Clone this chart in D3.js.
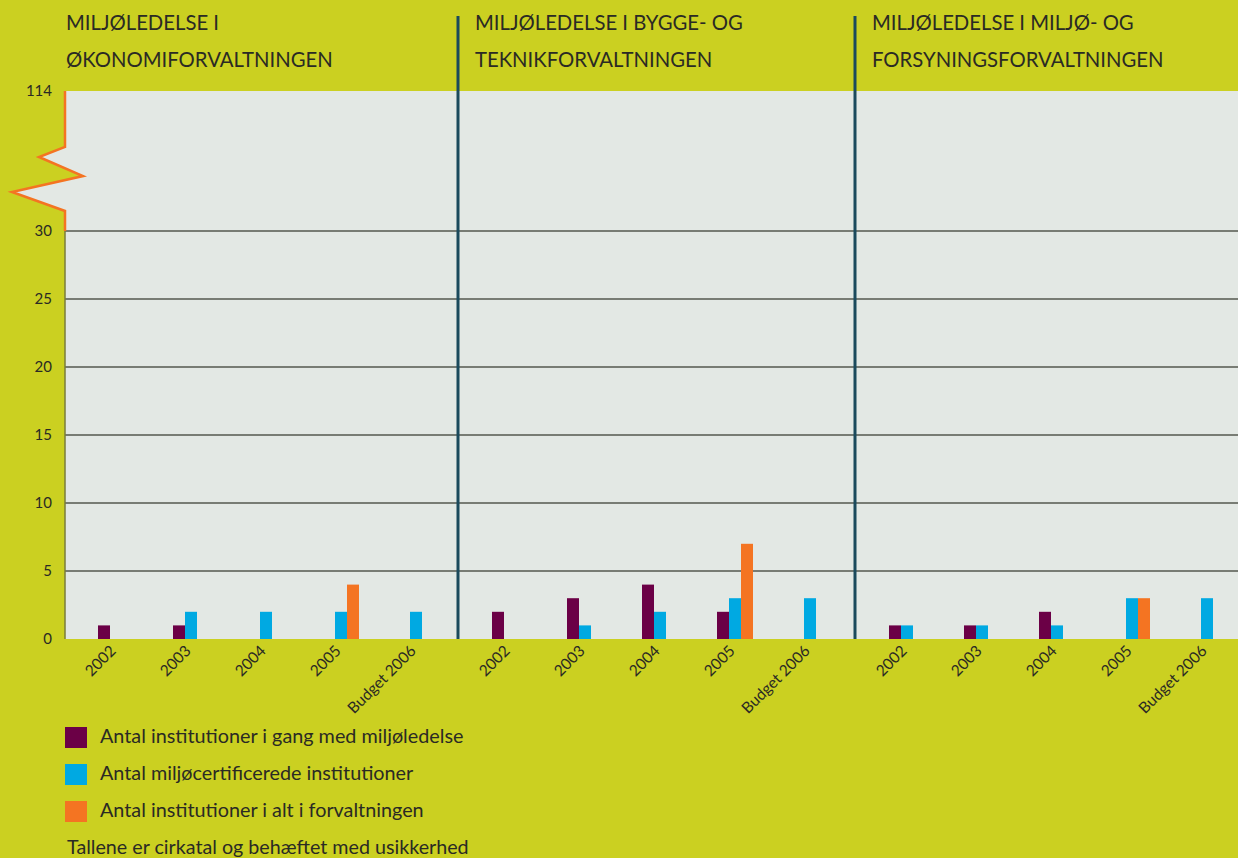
<!DOCTYPE html>
<html>
<head>
<meta charset="utf-8">
<script src="https://cdn.jsdelivr.net/npm/d3@7"></script>
<style>
  html, body { margin: 0; padding: 0; background: #cbd021; }
  svg { display: block; }
  text { font-family: "Lato", "Open Sans", sans-serif; fill: #2a2a24; }
</style>
</head>
<body>
<svg id="chart" width="1238" height="858"></svg>
<script>
// ---------- data ----------
const categories = ["2002", "2003", "2004", "2005", "Budget 2006"];
const panelTitles = [
  ["MILJØLEDELSE I", "ØKONOMIFORVALTNINGEN"],
  ["MILJØLEDELSE I BYGGE- OG", "TEKNIKFORVALTNINGEN"],
  ["MILJØLEDELSE I MILJØ- OG", "FORSYNINGSFORVALTNINGEN"]
];
const seriesNames = [
  "Antal institutioner i gang med miljøledelse",
  "Antal miljøcertificerede institutioner",
  "Antal institutioner i alt i forvaltningen"
];
// per panel, per category
const igangValues = [
  [1, 1, null, null, null],
  [2, 3, 4, 2, null],
  [1, 1, 2, null, null]
];
const certValues = [
  [null, 2, 2, 2, 2],
  [null, 1, 2, 3, 3],
  [1, 1, 1, 3, 3]
];
const altValues = [
  [null, null, null, 4, null],
  [null, null, null, 7, null],
  [null, null, null, 3, null]
];
const yTicks = [0, 5, 10, 15, 20, 25, 30, 114];
const footnote = "Tallene er cirkatal og behæftet med usikkerhed";
const colors = ["#6b0046", "#00a9e2", "#f47422"];

// ---------- layout ----------
const svg = d3.select("#chart");
const W = 1238, H = 858;
const plotLeft = 65, plotRight = 1238, plotTop = 91, plotBottom = 639;
const panelLefts = [64, 458, 855];

// piecewise scale with axis break between 30 and 114
const y = d3.scaleLinear().domain([0, 30, 114]).range([plotBottom, 231, plotTop]);

svg.append("rect").attr("width", W).attr("height", H).attr("fill", "#cbd021");

// plot background with zigzag break on the left edge
const zig = [
  [plotLeft, plotTop], [plotLeft, 147], [39, 157], [83, 176], [12, 192],
  [plotLeft, 211], [plotLeft, 231]
];
const bgPts = [[plotRight, plotTop]].concat(zig).concat([[plotLeft, plotBottom], [plotRight, plotBottom]]);
svg.append("path")
  .attr("d", d3.line()(bgPts) + "Z")
  .attr("fill", "#e3e8e4");

// gridlines
svg.append("g").selectAll("line")
  .data(yTicks.filter(t => t > 0 && t <= 30))
  .join("line")
  .attr("x1", plotLeft).attr("x2", plotRight)
  .attr("y1", d => y(d)).attr("y2", d => y(d))
  .attr("stroke", "#55584f").attr("stroke-width", 1.5);

// left axis: orange zigzag above 30, olive line below
svg.append("path")
  .attr("d", d3.line()(zig))
  .attr("fill", "none").attr("stroke", "#f47422").attr("stroke-width", 2.5)
  .attr("stroke-linejoin", "miter");
svg.append("line")
  .attr("x1", plotLeft).attr("x2", plotLeft)
  .attr("y1", y(30)).attr("y2", plotBottom)
  .attr("stroke", "#7a7d3a").attr("stroke-width", 1.5);

// y tick labels
svg.append("g").selectAll("text")
  .data(yTicks)
  .join("text")
  .attr("x", 52).attr("y", d => y(d))
  .attr("dy", "0.35em")
  .attr("text-anchor", "end")
  .attr("font-size", 15)
  .text(d => d);

// panels
const x = d3.scaleBand().domain(categories).range([0, 404]).paddingInner(0.52).paddingOuter(0.4533);
const slot = d3.scaleBand().domain([0, 1, 2]).range([0, x.bandwidth()]);
const seriesValues = [igangValues, certValues, altValues];

panelLefts.forEach((px, p) => {
  const g = svg.append("g").attr("transform", `translate(${px},0)`);
  seriesValues.forEach((vals, s) => {
    g.append("g").selectAll("rect")
      .data(categories.map((c, i) => ({ c, v: vals[p][i] })).filter(d => d.v != null))
      .join("rect")
      .attr("x", d => x(d.c) + slot(s))
      .attr("width", slot.bandwidth())
      .attr("y", d => y(d.v))
      .attr("height", d => plotBottom - y(d.v))
      .attr("fill", colors[s]);
  });
  // x labels
  g.append("g").selectAll("text")
    .data(categories)
    .join("text")
    .attr("transform", d => `translate(${x(d) + x.bandwidth() / 2 - 3},${plotBottom + 9}) rotate(-45)`)
    .attr("text-anchor", "end")
    .attr("dy", "0.35em")
    .attr("font-size", 15.5)
    .text(d => d);
  // titles
  const tx = p === 0 ? 66 : px + 17;
  panelTitles[p].forEach((t, i) => {
    svg.append("text")
      .attr("x", tx).attr("y", 30 + i * 37)
      .attr("font-size", 20.3)
      .text(t);
  });
});

// dividers
svg.append("g").selectAll("line")
  .data(panelLefts.slice(1))
  .join("line")
  .attr("x1", d => d).attr("x2", d => d)
  .attr("y1", 16).attr("y2", plotBottom)
  .attr("stroke", "#1b4a5c").attr("stroke-width", 3);

// legend
const lg = svg.append("g");
seriesNames.forEach((n, i) => {
  lg.append("rect").attr("x", 65).attr("y", 727 + i * 37).attr("width", 22).attr("height", 21).attr("fill", colors[i]);
  lg.append("text").attr("x", 100).attr("y", 743 + i * 37).attr("font-size", 19.8).text(n);
});
svg.append("text").attr("x", 67).attr("y", 854).attr("font-size", 19.7).text(footnote);
</script>
</body>
</html>
